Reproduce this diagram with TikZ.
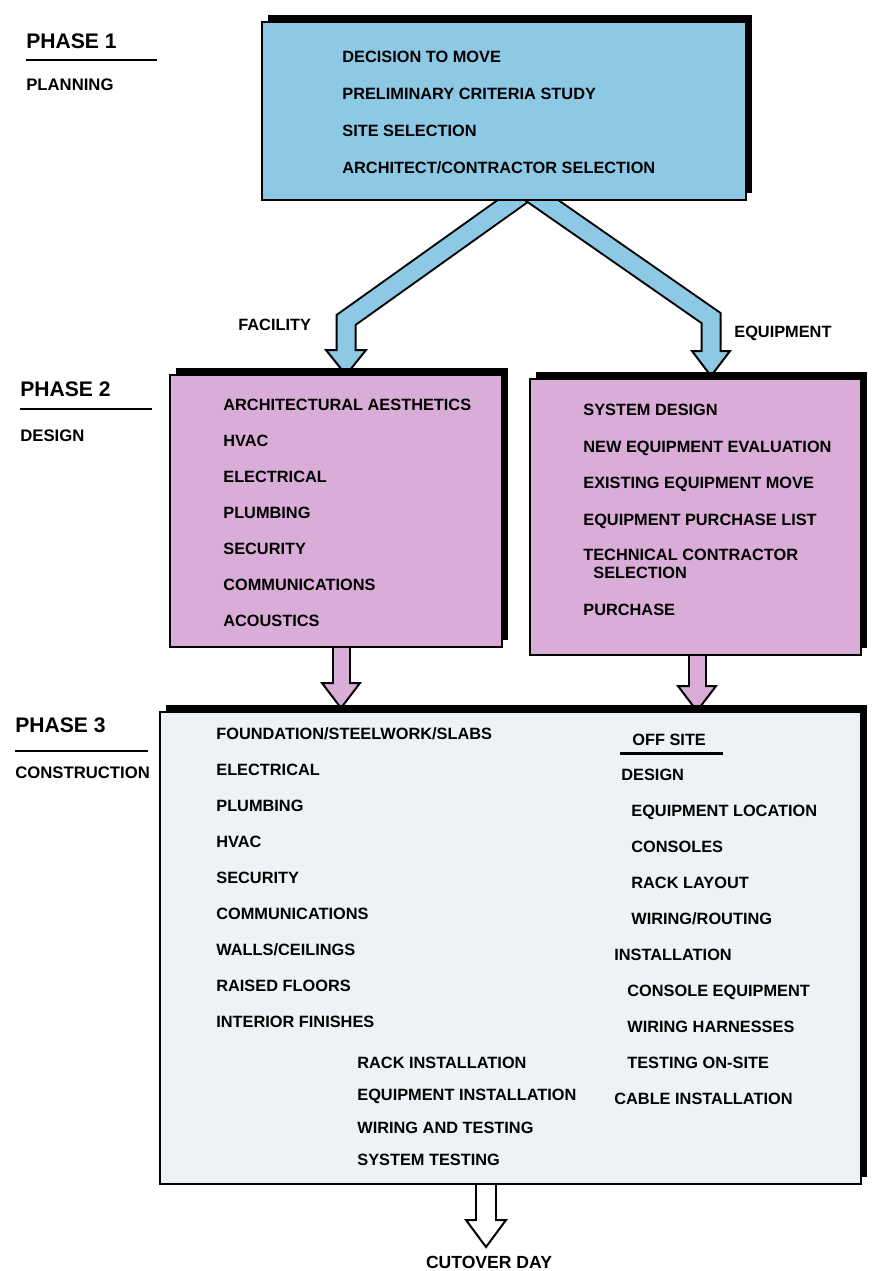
\documentclass[tikz,border=0pt]{standalone}
\usepackage{fontspec}
\setmainfont{Liberation Sans}
\usetikzlibrary{positioning, calc, fit, shadows}

\definecolor{planblue}{RGB}{141,200,228}
\definecolor{designpink}{RGB}{218,172,216}
\definecolor{buildgray}{RGB}{237,242,244}

\newcommand{\itemsize}{\fontsize{9.3}{11}\selectfont\bfseries}
\newcommand{\phasesize}{\fontsize{12}{14}\selectfont\bfseries}
\newcommand{\stagesize}{\fontsize{9.5}{11}\selectfont\bfseries}

\pgfdeclarelayer{back}
\pgfsetlayers{back,main}

\begin{document}
\begin{tikzpicture}[x=0.2mm, y=-0.2mm, line join=miter]
        % Define styles
        \tikzstyle{panel} = [draw, line width=1.3pt, inner sep=0pt, drop shadow={shadow xshift=1.2mm, shadow yshift=1.4mm, opacity=1, fill=black}]
        \tikzstyle{listitem} = [anchor=west, font=\itemsize, inner sep=0pt, text depth=0pt]
        \tikzstyle{phaselbl} = [anchor=west, font=\phasesize, inner sep=0pt, text depth=0pt]
        \tikzstyle{stagelbl} = [anchor=west, font=\stagesize, inner sep=0pt, text depth=0pt]
        \tikzstyle{rulebar} = [line width=1.6pt]
        \tikzstyle{shaftouter} = [line width=4.2mm, black]
        \tikzstyle{shaftinner} = [line width=3.4mm]
        \tikzstyle{tiphead} = [line width=0.4mm, draw=black]

        \useasboundingbox (0,0) rectangle (874,1271);

        % Place the boxes
        \node [panel, fill=planblue, fit={(262,22) (746,200)}] (plan) {};
        \node [panel, fill=designpink, fit={(170,375) (502,647)}] (facility) {};
        \node [panel, fill=designpink, fit={(530,379) (861,655)}] (equipment) {};
        \node [panel, fill=buildgray, fit={(160,712) (861,1184)}] (construction) {};

        % Block arrows, behind the boxes
        \begin{pgfonlayer}{back}
            \coordinate (facbend) at (346,320);
            \coordinate (facbase) at (346,350);
            \draw [shaftouter] (538,183) -- (facbend) -- (facbase);
            \filldraw [tiphead, fill=planblue] ($(facbase)+(-20,0)$) -- ($(facbase)+(0,25)$) -- ($(facbase)+(20,0)$) -- cycle;
            \draw [shaftinner, planblue] (538,183) -- (facbend) -- ($(facbase)+(0,2)$);

            \coordinate (eqbend) at (711,318);
            \coordinate (eqbase) at (711,351);
            \draw [shaftouter] (517,183) -- (eqbend) -- (eqbase);
            \filldraw [tiphead, fill=planblue] ($(eqbase)+(-19,0)$) -- ($(eqbase)+(0,25)$) -- ($(eqbase)+(19,0)$) -- cycle;
            \draw [shaftinner, planblue] (517,183) -- (eqbend) -- ($(eqbase)+(0,2)$);

            \coordinate (facout) at (341,683);
            \draw [shaftouter, line width=3.8mm] (facility.south -| facout) ++(0,-10) -- (facout);
            \filldraw [tiphead, fill=designpink] ($(facout)+(-19,0)$) -- ($(facout)+(0,25)$) -- ($(facout)+(19,0)$) -- cycle;
            \draw [shaftinner, line width=3mm, designpink] (facility.south -| facout) ++(0,-10) -- ($(facout)+(0,2)$);

            \coordinate (eqout) at (697,686);
            \draw [shaftouter, line width=3.8mm] (equipment.south -| eqout) ++(0,-10) -- (eqout);
            \filldraw [tiphead, fill=designpink] ($(eqout)+(-19,0)$) -- ($(eqout)+(0,25)$) -- ($(eqout)+(19,0)$) -- cycle;
            \draw [shaftinner, line width=3mm, designpink] (equipment.south -| eqout) ++(0,-10) -- ($(eqout)+(0,2)$);

            \coordinate (cutout) at (486,1220);
            \draw [shaftouter, line width=4.4mm] (construction.south -| cutout) ++(0,-10) -- (cutout);
            \filldraw [tiphead, fill=white] ($(cutout)+(-20,0)$) -- ($(cutout)+(0,27)$) -- ($(cutout)+(20,0)$) -- cycle;
            \draw [shaftinner, line width=3.6mm, white] (construction.south -| cutout) ++(0,-10) -- ($(cutout)+(0,2)$);
        \end{pgfonlayer}

        % Phase labels
        \node [phaselbl] (phase1) at (26,41) {PHASE 1};
        \draw [rulebar] (26,60) -- (157,60);
        \node [stagelbl] (planning) at (26,85) {PLANNING};
        \node [phaselbl] (phase2) at (20,389) {PHASE 2};
        \draw [rulebar] (20,409) -- (152,409);
        \node [stagelbl] (design) at (20,436) {DESIGN};
        \node [phaselbl] (phase3) at (15,725) {PHASE 3};
        \draw [rulebar] (15,751) -- (148,751);
        \node [stagelbl] (build) at (15,773) {CONSTRUCTION};

        % Phase 1 items
        \foreach \txt [count=\i] in {DECISION TO MOVE, PRELIMINARY CRITERIA STUDY, SITE SELECTION, ARCHITECT/CONTRACTOR SELECTION}
            \node [listitem] (plan\i) at (342,20+37*\i) {\txt};

        % Labels on the arrows
        \node [listitem] (faclbl) at (238,325) {FACILITY};
        \node [listitem] (eqlbl) at (734,332) {EQUIPMENT};

        % Phase 2 items
        \foreach \txt [count=\i] in {ARCHITECTURAL AESTHETICS, HVAC, ELECTRICAL, PLUMBING, SECURITY, COMMUNICATIONS, ACOUSTICS}
            \node [listitem] (fac\i) at (223,369+36*\i) {\txt};
        \node [listitem] (eq1) at (583,410) {SYSTEM DESIGN};
        \node [listitem] (eq2) at (583,447) {NEW EQUIPMENT EVALUATION};
        \node [listitem] (eq3) at (583,483) {EXISTING EQUIPMENT MOVE};
        \node [listitem] (eq4) at (583,520) {EQUIPMENT PURCHASE LIST};
        \node [listitem] (eq5) at (583,555) {TECHNICAL CONTRACTOR};
        \node [listitem] (eq6) at (593,573) {SELECTION};
        \node [listitem] (eq7) at (583,610) {PURCHASE};

        % Phase 3 items
        \foreach \txt [count=\i] in {FOUNDATION/STEELWORK/SLABS, ELECTRICAL, PLUMBING, HVAC, SECURITY, COMMUNICATIONS, WALLS/CEILINGS, RAISED FLOORS, INTERIOR FINISHES}
            \node [listitem] (site\i) at (216,698+36*\i) {\txt};
        \foreach \txt [count=\i] in {RACK INSTALLATION, EQUIPMENT INSTALLATION, WIRING AND TESTING, SYSTEM TESTING}
            \node [listitem] (sys\i) at (357,1030+32.5*\i) {\txt};
        \node [listitem] (offsite) at (632,740) {OFF SITE};
        \draw [line width=0.6mm] (620,753) -- (723,753);
        \foreach \x/\txt [count=\i] in {621/DESIGN, 631/EQUIPMENT LOCATION, 631/CONSOLES, 631/RACK LAYOUT, 631/{WIRING/ROUTING}, 614/INSTALLATION, 627/CONSOLE EQUIPMENT, 627/WIRING HARNESSES, 627/TESTING ON-SITE, 614/CABLE INSTALLATION}
            \node [listitem] (off\i) at (\x,739+36*\i) {\txt};

        % Final step
        \node [font=\fontsize{10}{12}\selectfont\bfseries, inner sep=0pt, text depth=0pt] (cutover) at (489,1262) {CUTOVER DAY};
    \end{tikzpicture}
\end{document}
